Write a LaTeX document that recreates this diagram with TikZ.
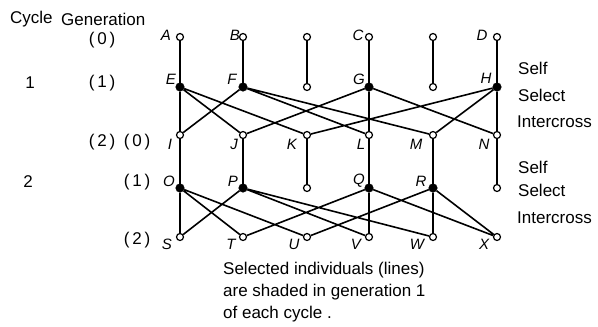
\documentclass[tikz,border=0pt]{standalone}
\usepackage{fontspec}
\setmainfont{Liberation Sans}
\begin{document}
\begin{tikzpicture}[x=1pt,y=-1pt,
  opn/.style={circle, draw, fill=white, inner sep=0pt, minimum size=7pt, line width=1.2pt},
  sel/.style={circle, draw, fill=black, inner sep=0pt, minimum size=8.5pt, line width=0.5pt},
  lnk/.style={line width=1.6pt},
  lbl/.style={font=\fontsize{15}{18}\selectfont\itshape, inner sep=0pt},
  txt/.style={font=\fontsize{17}{22}\selectfont, inner sep=0pt}]
\useasboundingbox (0,0) rectangle (598,327);
% row 0
\node[opn] (A) at (180,37) {};
\node[opn] (B) at (243,37) {};
\node[opn] (z3a) at (307,37) {};
\node[opn] (C) at (369,37) {};
\node[opn] (z5a) at (433,37) {};
\node[opn] (D) at (497,37) {};
% row 1
\node[sel] (E) at (180,87) {};
\node[sel] (F) at (243,87) {};
\node[opn] (z3b) at (307,87) {};
\node[sel] (G) at (369,87) {};
\node[opn] (z5b) at (433,87) {};
\node[sel] (H) at (497,87) {};
% row 2
\node[opn] (I) at (180,135) {};
\node[opn] (J) at (243,135) {};
\node[opn] (K) at (307,135) {};
\node[opn] (L) at (369,135) {};
\node[opn] (M) at (433,135) {};
\node[opn] (N) at (497,135) {};
% row 3
\node[sel] (O) at (180,188) {};
\node[sel] (P) at (243,188) {};
\node[opn] (z3c) at (307,188) {};
\node[sel] (Q) at (369,188) {};
\node[sel] (R) at (433,188) {};
\node[opn] (z6c) at (497,188) {};
% row 4
\node[opn] (S) at (180,237) {};
\node[opn] (T) at (243,237) {};
\node[opn] (U) at (307,237) {};
\node[opn] (V) at (369,237) {};
\node[opn] (W) at (433,237) {};
\node[opn] (X) at (497,237) {};
% connectors
\draw[lnk] (A)--(E) (B)--(F) (z3a)--(z3b) (C)--(G) (z5a)--(z5b) (D)--(H);
\draw[lnk] (E)--(I) (E)--(J) (E)--(K) (F)--(I) (F)--(L) (F)--(M)
           (G)--(J) (G)--(L) (G)--(N) (H)--(K) (H)--(M) (H)--(N);
\draw[lnk] (I)--(O) (J)--(P) (K)--(z3c) (L)--(Q) (M)--(R) (N)--(z6c);
\draw[lnk] (O)--(S) (O)--(T) (O)--(U) (P)--(S) (P)--(V) (P)--(W)
           (Q)--(T) (Q)--(V) (Q)--(X) (R)--(U) (R)--(W) (R)--(X);
% node labels
\node[lbl] (lA) at (166,35) {A};
\node[lbl] (lB) at (235,35) {B};
\node[lbl] (lC) at (358,35) {C};
\node[lbl] (lD) at (482,35) {D};
\node[lbl] (lE) at (171,79) {E};
\node[lbl] (lF) at (232,79) {F};
\node[lbl] (lG) at (359,79) {G};
\node[lbl] (lH) at (486,78) {H};
\node[lbl] (lI) at (170,144) {I};
\node[lbl] (lJ) at (234,144) {J};
\node[lbl] (lK) at (292,144) {K};
\node[lbl] (lL) at (361,144) {L};
\node[lbl] (lM) at (416,144) {M};
\node[lbl] (lN) at (484,144) {N};
\node[lbl] (lO) at (169,181) {O};
\node[lbl] (lP) at (233,181) {P};
\node[lbl] (lQ) at (359,181) {Q};
\node[lbl] (lR) at (421,181) {R};
\node[lbl] (lS) at (167,244) {S};
\node[lbl] (lT) at (231,244) {T};
\node[lbl] (lU) at (294,244) {U};
\node[lbl] (lV) at (356,244) {V};
\node[lbl] (lW) at (417,244) {W};
\node[lbl] (lX) at (484,244) {X};
% left texts
\node[txt, anchor=west] (cyc) at (10,19) {Cycle};
\node[txt, anchor=west] (gen) at (61,19) {Generation};
\node[txt] (g0a) at (102,40) {(\,0\,)};
\node[txt] (c1) at (30,83) {1};
\node[txt] (g1a) at (102,83) {(\,1\,)};
\node[txt] (g2a) at (102,142) {(\,2\,)};
\node[txt] (g0b) at (137,142) {(\,0\,)};
\node[txt] (c2) at (28,182) {2};
\node[txt] (g1b) at (137,182) {(\,1\,)};
\node[txt] (g2b) at (137,240) {(\,2\,)};
% right texts
\node[txt, anchor=west] (s1) at (518,68) {Self};
\node[txt, anchor=west] (se1) at (518,95) {Select};
\node[txt, anchor=west] (i1) at (517,122) {Intercross};
\node[txt, anchor=west] (s2) at (518,167) {Self};
\node[txt, anchor=west] (se2) at (518,190) {Select};
\node[txt, anchor=west] (i2) at (517,218) {Intercross};
% caption
\node[txt, anchor=north west, align=left] (cap) at (223,261.5)
  {Selected individuals (lines)\\are shaded in generation 1\\of each cycle .};
\end{tikzpicture}
\end{document}
